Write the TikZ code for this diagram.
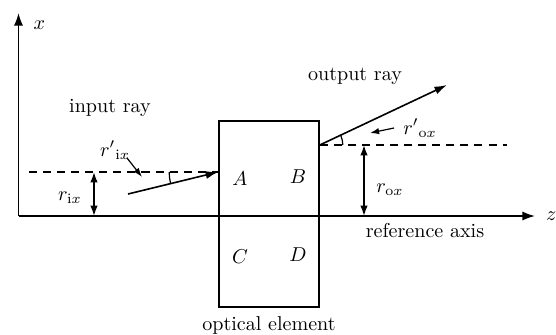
\documentclass[tikz,border=0pt]{standalone}
\usepackage{tikz}
\usetikzlibrary{arrows.meta, positioning, calc}

\begin{document}
\begin{tikzpicture}[
        x=0.175mm, y=0.175mm,
        axis/.style={thick, -{Latex[length=2.2mm, width=1.6mm]}},
        refline/.style={thick, dashed, dash pattern=on 4pt off 3pt},
        ray/.style={thick, -{Latex[length=2.2mm, width=1.4mm]}},
        dist/.style={thick, {Latex[length=1.8mm, width=1.3mm]}-{Latex[length=1.8mm, width=1.3mm]}},
        pointer/.style={semithick, -{Latex[length=1.6mm, width=1.1mm]}},
        element/.style={draw, thick, minimum width=100*0.175mm, minimum height=186*0.175mm,
            inner sep=0pt},
        lbl/.style={font=\normalsize}
    ]
        \useasboundingbox (0,0) rectangle (556,334);

        % optical element and axes
        \node[element] (elem) at (269,120) {};
        \coordinate (orig) at (18.5,118);
        \coordinate (xtop) at (18.5,321);
        \coordinate (ztip) at (535,118);
        \draw[axis] (orig) -- (xtop);
        \draw[axis] (orig) -- (ztip);
        \node[lbl, right=4pt of xtop, yshift=-6pt] (xlab) {$x$};
        \node[lbl, right=2pt of ztip] (zlab) {$z$};

        % reference lines
        \coordinate (inA) at (elem.west |- 0,162);
        \coordinate (outB) at (elem.east |- 0,189);
        \coordinate (dashL) at (29,162);
        \coordinate (dashR) at (507,189);
        \draw[refline] (dashL) -- (inA);
        \draw[refline] (outB) -- (dashR);

        % rays
        \coordinate (inStart) at (128,140);
        \coordinate (outEnd) at (447,249);
        \draw[ray] (inStart) -- (inA);
        \draw[ray] (outB) -- (outEnd);
        \draw[semithick] ($(inA)+(180:49)$) arc[start angle=180, end angle=193.6, radius=49];
        \draw[semithick] ($(outB)+(0:23)$) arc[start angle=0, end angle=25, radius=23];

        % distances
        \coordinate (ixTop) at (94,162);
        \coordinate (ixBot) at (94,118);
        \coordinate (oxTop) at (364,189);
        \coordinate (oxBot) at (364,118);
        \draw[dist] (ixBot) -- (ixTop);
        \draw[dist] (oxBot) -- (oxTop);

        % labels
        \node[lbl] (inlab) at (110,226) {input ray};
        \node[lbl] (outlab) at (355,258) {output ray};
        \node[lbl] (reflab) at (425,103) {reference axis};
        \node[lbl] (elemlab) at (269,9) {optical element};
        \node[lbl] (rix) at (70,136) {$r_{\mathrm{i}x}$};
        \node[lbl] (rox) at (390,144) {$r_{\mathrm{o}x}$};
        \node[lbl] (drix) at (115,184) {$r'{}_{\mathrm{i}x}$};
        \node[lbl] (drox) at (420,206) {$r'{}_{\mathrm{o}x}$};
        \coordinate (pinS) at (127,176);
        \coordinate (pin) at (142,157);
        \coordinate (poutS) at (394,206);
        \coordinate (pout) at (370,201);
        \draw[pointer] (pinS) -- (pin);
        \draw[pointer] (poutS) -- (pout);

        \node[lbl] (nA) at (240,155) {$A$};
        \node[lbl] (nB) at (298,157) {$B$};
        \node[lbl] (nC) at (240,77) {$C$};
        \node[lbl] (nD) at (298,79) {$D$};
    \end{tikzpicture}
\end{document}
